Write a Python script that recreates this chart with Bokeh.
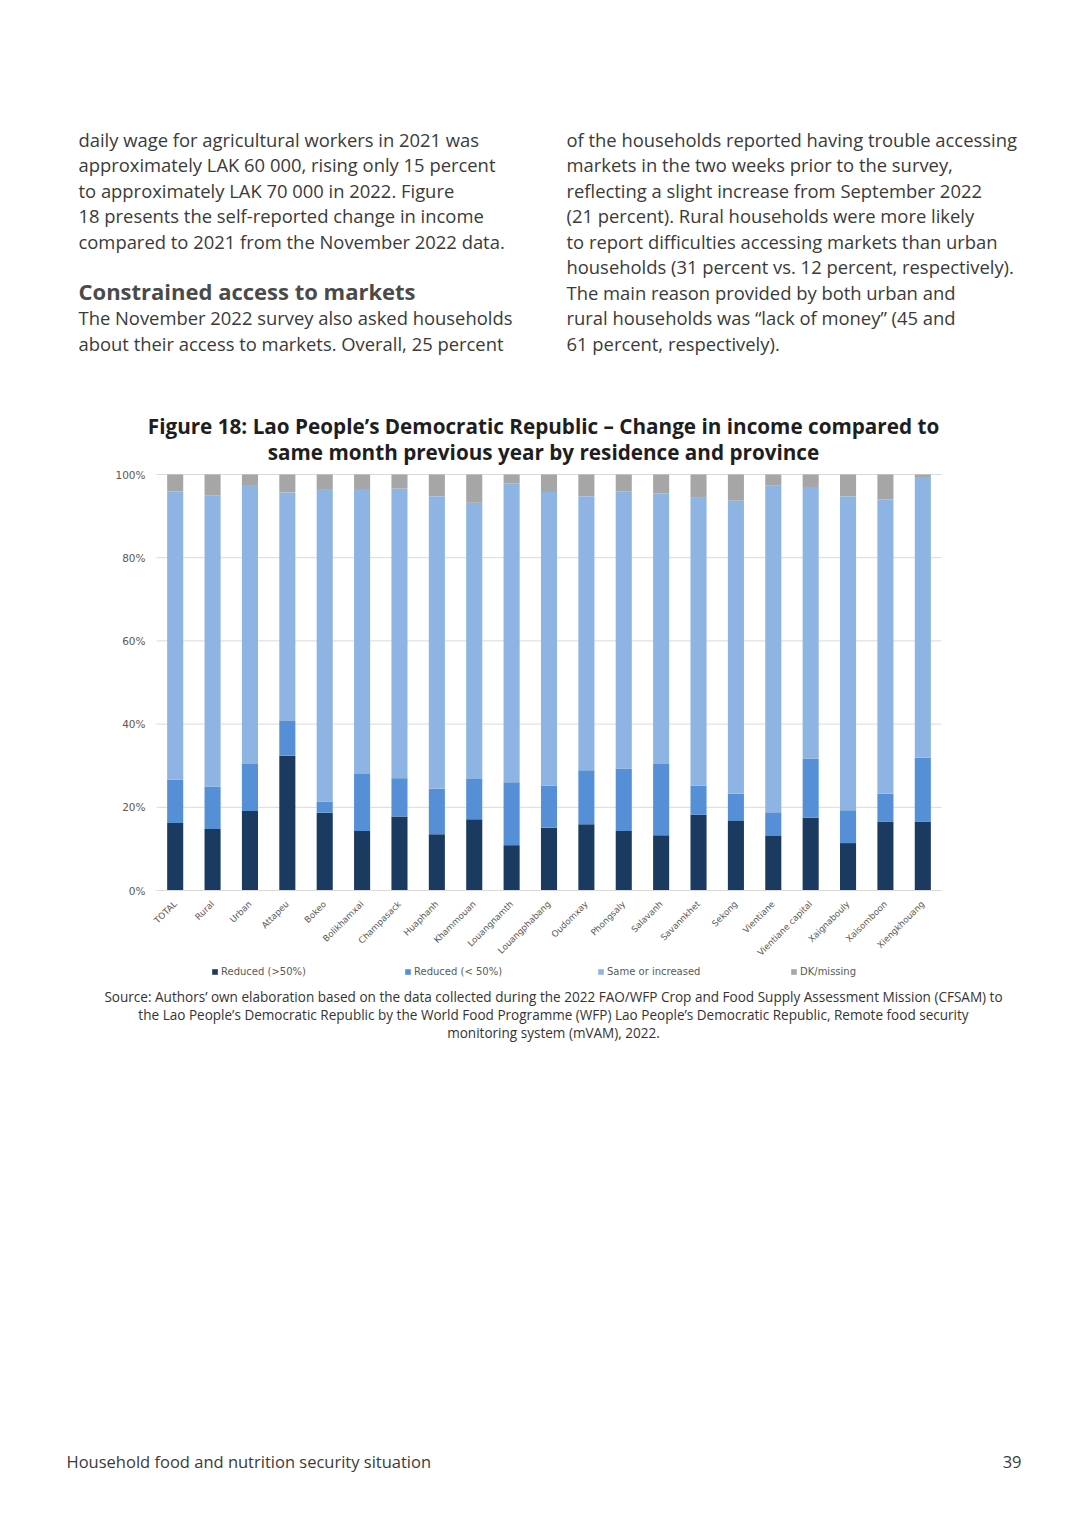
import math
from bokeh.plotting import figure
from bokeh.models import (ColumnDataSource, Range1d, FixedTicker, PrintfTickFormatter,
                          CustomJSTickFormatter, Legend, LegendItem, LinearAxis)
from bokeh.core.properties import value
from bokeh.embed import file_html
from bokeh.resources import INLINE

# ---------------- data ----------------
categories = ["TOTAL", "Rural", "Urban", "Attapeu", "Bokeo", "Bolikhamxai", "Champasack",
              "Huaphanh", "Khammouan", "Louangnamth", "Louangphabang", "Oudomxay",
              "Phongsaly", "Salavanh", "Savannkhet", "Sekong", "Vientiane",
              "Vientiane capital", "Xaignabouly", "Xaisomboon", "Xiengkhouang"]
reduced_major = [16.2, 14.8, 19.1, 32.4, 18.7, 14.3, 17.8, 13.5, 17.1, 10.9, 15.1,
                 15.9, 14.3, 13.3, 18.2, 16.7, 13.1, 17.5, 11.4, 16.6, 16.6]
reduced_minor = [10.4, 10.2, 11.3, 8.5, 2.7, 13.7, 9.2, 11.0, 9.7, 15.1, 10.1,
                 13.0, 15.0, 17.1, 7.0, 6.6, 5.7, 14.2, 7.9, 6.7, 15.3]
same_or_increased = [69.3, 70.0, 67.1, 54.8, 74.9, 68.5, 69.6, 70.3, 66.4, 71.9, 70.6,
                     65.9, 66.6, 65.0, 69.2, 70.4, 78.6, 65.3, 75.5, 70.7, 67.5]
dk_missing = [4.1, 5.0, 2.5, 4.3, 3.7, 3.5, 3.4, 5.2, 6.8, 2.1, 4.2,
              5.2, 4.1, 4.6, 5.6, 6.3, 2.6, 3.0, 5.2, 6.0, 0.6]
series_labels = ["Reduced (>50%)", "Reduced (< 50%)", "Same or increased", "DK/missing"]
series_colors = ["#1a3a60", "#5590d6", "#8eb4e3", "#a6a6a6"]
y_ticks = [0, 20, 40, 60, 80, 100]

title_lines = ["Figure 18: Lao People\u2019s Democratic Republic \u2013 Change in income compared to",
               "same month previous year by residence and province"]
left_col = ["daily wage for agricultural workers in 2021 was",
            "approximately LAK 60 000, rising only 15 percent",
            "to approximately LAK 70 000 in 2022. Figure",
            "18 presents the self-reported change in income",
            "compared to 2021 from the November 2022 data."]
heading = "Constrained access to markets"
left_col2 = ["The November 2022 survey also asked households",
             "about their access to markets. Overall, 25 percent"]
right_col = ["of the households reported having trouble accessing",
             "markets in the two weeks prior to the survey,",
             "reflecting a slight increase from September 2022",
             "(21 percent). Rural households were more likely",
             "to report difficulties accessing markets than urban",
             "households (31 percent vs. 12 percent, respectively).",
             "The main reason provided by both urban and",
             "rural households was \u201clack of money\u201d (45 and",
             "61 percent, respectively)."]
source_lines = ["Source: Authors\u2019 own elaboration based on the data collected during the 2022 FAO/WFP Crop and Food Supply Assessment Mission (CFSAM) to",
                "the Lao People\u2019s Democratic Republic by the World Food Programme (WFP) Lao People\u2019s Democratic Republic, Remote food security",
                "monitoring system (mVAM), 2022."]
footer_left = "Household food and nutrition security situation"
footer_right = "39"

# ---------------- page geometry ----------------
BODY = "Open Sans"
W, H = 1071, 1520
TEXT_COL = "#3a3a3a"
FR_LEFT, FR_RIGHT, FR_TOP, FR_BOTTOM = 156, 941, 474, 890   # chart plot area on page
N = len(categories)
PXU = (FR_RIGHT - FR_LEFT) / N          # px per category
PYU = (FR_BOTTOM - FR_TOP) / 100.0      # px per percent


def gx(px):
    return (px - FR_LEFT) / PXU


def gy(py):
    return (FR_BOTTOM - py) / PYU


p = figure(width=W, height=H, x_range=Range1d(gx(0), gx(W)), y_range=Range1d(gy(H), gy(0)),
           min_border=0, toolbar_location=None, output_backend="svg", x_axis_type=None,
           y_axis_type=None)
p.outline_line_color = None
p.grid.visible = False

# grid lines across the category span
p.segment(x0=[0] * len(y_ticks), x1=[N] * len(y_ticks), y0=y_ticks, y1=y_ticks,
          line_color="#d9d9d9", line_width=1)

src = ColumnDataSource(dict(x=[i + 0.5 for i in range(N)], a=reduced_major, b=reduced_minor,
                            c=same_or_increased, d=dk_missing))
rs = p.vbar_stack(["a", "b", "c", "d"], x="x", width=0.43, color=series_colors,
                  line_color=None, source=src)

xaxis = LinearAxis(fixed_location=0, bounds=(0, N),
                   ticker=FixedTicker(ticks=[i + 0.5 for i in range(N)], minor_ticks=[]),
                   formatter=CustomJSTickFormatter(args=dict(cats=categories),
                                                   code="return cats[Math.floor(tick)] || ''"))
xaxis.axis_line_color = "#d9d9d9"
xaxis.major_tick_line_color = None
xaxis.minor_tick_line_color = None
xaxis.major_label_orientation = math.pi / 4
xaxis.major_label_text_font = "DejaVu Sans"
xaxis.major_label_text_font_size = "8.7px"
xaxis.major_label_text_color = "#595959"
xaxis.major_label_standoff = 6
p.add_layout(xaxis, "below")

yaxis = LinearAxis(fixed_location=0, bounds=(0, 100),
                   ticker=FixedTicker(ticks=y_ticks, minor_ticks=[]),
                   formatter=PrintfTickFormatter(format="%d%%"))
yaxis.axis_line_color = None
yaxis.major_tick_line_color = None
yaxis.minor_tick_line_color = None
yaxis.major_label_text_font = "DejaVu Sans"
yaxis.major_label_text_font_size = "10.5px"
yaxis.major_label_text_color = "#595959"
yaxis.major_label_standoff = 5
p.add_layout(yaxis, "left")

legend = Legend(items=[LegendItem(label=l, renderers=[r]) for l, r in zip(series_labels, rs)],
                orientation="horizontal", location=(211, H - 977),
                glyph_width=7, glyph_height=7, label_height=12,
                label_standoff=3, label_width=179, spacing=4, padding=2, margin=0,
                label_text_font="DejaVu Sans", label_text_font_size="10px",
                label_text_color="#595959", border_line_color=None,
                background_fill_alpha=0)
p.add_layout(legend, "center")


def put(xs, ys, texts, size, color=TEXT_COL, style="normal", align="left"):
    p.text(x=[gx(v) for v in xs], y=[gy(v) for v in ys], text=texts,
           text_font=value(BODY), text_font_size=size, text_font_style=style,
           text_color=color, text_align=align, text_baseline="middle")


put([78] * 5, [138.5 + i * 25.5 for i in range(5)], left_col, "18.4px")
put([78], [290.5], [heading], "22px", color="#4a4a4a", style="bold")
put([78] * 2, [316.5, 342.5], left_col2, "18.4px")
put([566] * 9, [138.5 + i * 25.5 for i in range(9)], right_col, "18.4px")
put([543] * 2, [425.5, 451.5], title_lines, "20.7px", color="#1e1e1e", style="bold", align="center")
put([553] * 3, [996, 1014, 1032], source_lines, "13.55px", color="#333333", align="center")
put([66], [1461], [footer_left], "16.5px")
put([1021], [1461], [footer_right], "16.5px", align="right")

open("out.html", "w").write(file_html(p, INLINE))
